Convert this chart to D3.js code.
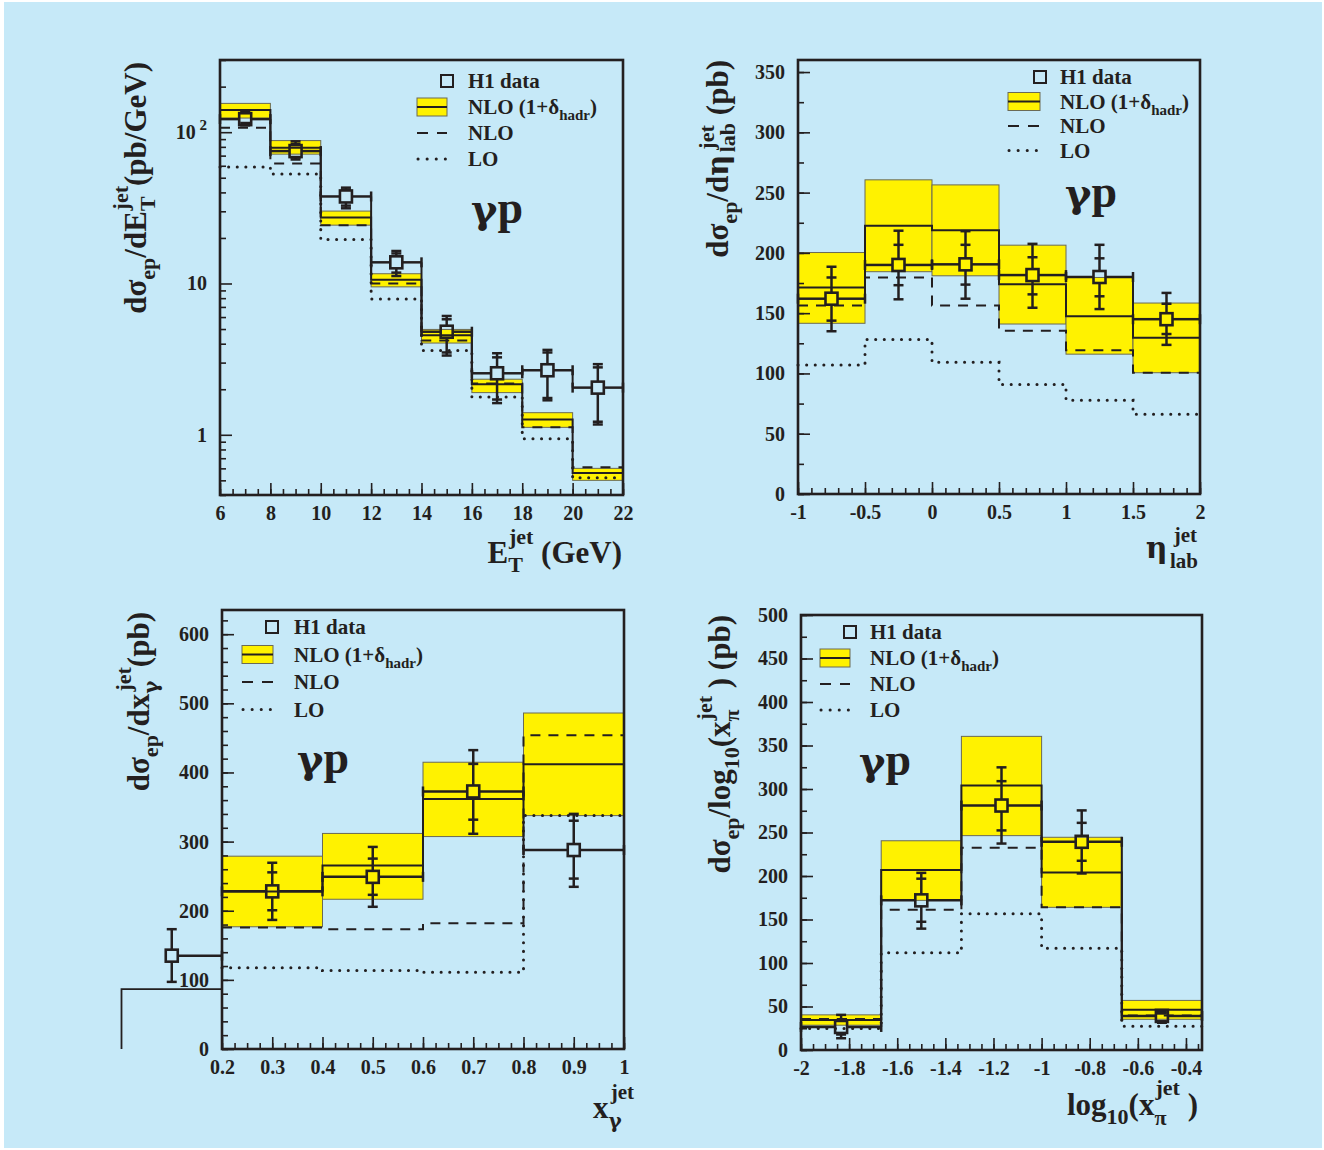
<!DOCTYPE html>
<html><head><meta charset="utf-8">
<script src="https://cdn.jsdelivr.net/npm/d3@7"></script>
<style>
body{margin:0;background:#fff}
text{font-family:"Liberation Serif","Times New Roman",serif;font-weight:bold;fill:#231f20}
</style></head>
<body><svg id="c" width="1324" height="1150"></svg>
<script>
// ---------- Panel 1: dσ/dE_T ----------
const etBins = [6,8,10,12,14,16,18,20,22];
const etData = [122,75,37.6,13.8,4.8,2.55,2.67,2.05];
const etStatHi = [134,83.5,41.7,15.8,5.8,3.25,3.5,2.79];
const etStatLo = [115,68,32.7,11.8,3.5,1.71,1.75,1.22];
const etTotHi = [138,87,43,16.4,6.1,3.46,3.64,2.93];
const etTotLo = [111,66,31.4,11.2,3.34,1.62,1.69,1.17];
const etBandHi = [155,88,30.1,11.6,4.97,2.33,1.40,0.60];
const etBandLo = [124,71.6,24.3,9.5,4.04,1.90,1.12,0.50];
const etBandMid = [140,79,27.3,10.6,4.55,2.16,1.26,0.56];
const etNLO = [107,62,24.3,10,4.2,2.18,1.12,0.61];
const etLO = [58.9,53,19.5,7.9,3.6,1.78,0.94,0.52];
const etXTicks = [6,8,10,12,14,16,18,20,22];
const etYTicks = [1,10,100];

// ---------- Panel 2: dσ/dη ----------
const etaBins = [-1,-0.5,0,0.5,1,1.5,2];
const etaData = [162,190,190.5,181.6,180,145];
const etaStatHi = [179.6,206.7,206.7,196.4,195.5,157.8];
const etaStatLo = [143.8,173.2,173.7,165.6,164,132.7];
const etaTotHi = [188.5,218.4,218,207.5,206.7,166.8];
const etaTotLo = [135,161.5,162,154.5,153.4,123.7];
const etaBandHi = [200.3,260.6,256.4,206.4,179.6,158.4];
const etaBandLo = [141.6,184.4,181,141,116,100.6];
const etaBandMid = [171.2,222.6,218.7,174,147.5,129.6];
const etaNLO = [156.4,179.6,156.4,135.5,119.3,100.6];
const etaLO = [107,128.2,109.2,90.8,77.7,66.2];
const etaXTicks = [-1,-0.5,0,0.5,1,1.5,2];
const etaYTicks = [0,50,100,150,200,250,300,350];

// ---------- Panel 3: dσ/dx_γ ----------
const xgBins = [0.2,0.4,0.6,0.8,1.0];
const xgData = [228,249,372.5,287.8];
const xgStatHi = [255.5,275.4,412.4,330.2];
const xgStatLo = [200.7,223,331.7,246.5];
const xgTotHi = [269.4,292.3,432.3,340.1];
const xgTotLo = [186.7,205.7,311.3,234.6];
const xgBandHi = [278.9,311.8,414.8,486];
const xgBandLo = [176.8,216.6,307.3,337.6];
const xgBandMid = [228,265.4,361.6,411.9];
const xgNLO = [175.8,173.3,181.8,453.7];
const xgLO = [117.5,113.5,111,337.6];
const xgOutPoint = [0.1,135,97.1,173.3];   // x, value, low, high (drawn outside the frame)
const xgOutStep = [0,0.2,86.7];            // stray step: from x, to x, value
const xgXTicks = [0.2,0.3,0.4,0.5,0.6,0.7,0.8,0.9,1];
const xgYTicks = [0,100,200,300,400,500,600];

// ---------- Panel 4: dσ/dlog10(x_π) ----------
const xpBins = [-2,-5/3,-4/3,-1,-2/3,-1/3];
const xpData = [26.5,172,281,239.3,39.2];
const xpStatHi = [34.5,196.9,309,261.1,42];
const xpStatLo = [17.8,147.4,252.4,217.5,33];
const xpTotHi = [40.4,203.6,324.9,275.4,44];
const xpTotLo = [13.5,139.5,237.3,202.9,31.3];
const xpBandHi = [40.4,240.5,360.5,244.5,57];
const xpBandLo = [28.5,172,246.4,164,35.3];
const xpBandMid = [34.5,206.8,303.9,204,46.4];
const xpNLO = [35.7,161.3,232.6,164,39.6];
const xpLO = [24.6,111.7,156.5,116.9,27.3];
const xpXTicks = [-2,-1.8,-1.6,-1.4,-1.2,-1,-0.8,-0.6,-0.4];
const xpYTicks = [0,50,100,150,200,250,300,350,400,450,500];

const legendLabels = ["H1 data","NLO (1+δ","NLO","LO"];

// =====================================================
const INK = "#231f20", YEL = "#fff200", BG = "#c6e9f8";
const GR = "DejaVu Serif";
const svg = d3.select("#c");
svg.append("rect").attr("x",4).attr("y",2).attr("width",1318).attr("height",1146).attr("fill",BG);

function range(a,b,s){const r=[];for(let v=a;v<=b+1e-9;v+=s)r.push(+v.toFixed(4));return r;}

function rich(t, parts){
  let cur=0;
  parts.forEach(p=>{
    const [txt, off, size, dx, fam] = p;
    const ts = t.append("tspan").text(txt).attr("font-size",size);
    if (off-cur!==0) ts.attr("dy", off-cur);
    if (dx) ts.attr("dx", dx);
    if (fam) ts.style("font-family", fam);
    cur = off;
  });
}

function stepPts(bins, vals){
  const pts=[];
  vals.forEach((v,i)=>{pts.push([bins[i],v]);pts.push([bins[i+1],v]);});
  return pts;
}

function drawPanel(c){
  const g = svg.append("g");
  const x = d3.scaleLinear().domain(c.xDom).range([c.L,c.R]);
  const y = (c.log? d3.scaleLog(): d3.scaleLinear()).domain(c.yDom).range([c.B,c.T]);
  const line = d3.line().x(d=>x(d[0])).y(d=>y(d[1]));
  const n = c.data.length;
  for(let i=0;i<n;i++){
    g.append("rect").attr("x",x(c.bins[i])).attr("width",x(c.bins[i+1])-x(c.bins[i]))
     .attr("y",y(c.bandHi[i])).attr("height",y(c.bandLo[i])-y(c.bandHi[i]))
     .attr("fill",YEL).attr("stroke","#6b6a55").attr("stroke-width",1);
  }
  g.append("path").attr("d",line(stepPts(c.bins,c.bandMid))).attr("fill","none").attr("stroke",INK).attr("stroke-width",2);
  g.append("path").attr("d",line(stepPts(c.bins,c.nlo))).attr("fill","none").attr("stroke",INK).attr("stroke-width",2).attr("stroke-dasharray","10,8");
  g.append("path").attr("d",line(stepPts(c.bins,c.lo))).attr("fill","none").attr("stroke",INK).attr("stroke-width",3).attr("stroke-dasharray","0.1,8.5").attr("stroke-linecap","round");
  for(let i=0;i<n-1;i++){
    g.append("line").attr("x1",x(c.bins[i+1])).attr("x2",x(c.bins[i+1]))
     .attr("y1",y(c.data[i])).attr("y2",y(c.data[i+1])).attr("stroke",INK).attr("stroke-width",2);
  }
  const h=6, cw=5;
  function point(cx, cy, lo, hi, xl, xr, sLo, sHi){
    const s = (x1,y1,x2,y2)=>g.append("line").attr("x1",x1).attr("y1",y1).attr("x2",x2).attr("y2",y2).attr("stroke",INK).attr("stroke-width",2.5);
    if (y(hi)<cy-h) s(cx,y(hi),cx,cy-h);
    if (y(lo)>cy+h) s(cx,cy+h,cx,y(lo));
    s(cx-cw,y(hi),cx+cw,y(hi)); s(cx-cw,y(lo),cx+cw,y(lo));
    if (sLo!==undefined){ s(cx-cw,y(sHi),cx+cw,y(sHi)); s(cx-cw,y(sLo),cx+cw,y(sLo)); }
    if (xl!==null){ s(xl,cy,cx-h,cy); s(xl,cy-cw,xl,cy+cw); }
    if (xr!==null){ s(cx+h,cy,xr,cy); s(xr,cy-cw,xr,cy+cw); }
    g.append("rect").attr("x",cx-h).attr("y",cy-h).attr("width",2*h).attr("height",2*h)
     .attr("fill","none").attr("stroke",INK).attr("stroke-width",2.6);
  }
  for(let i=0;i<n;i++){
    const cx = x((c.bins[i]+c.bins[i+1])/2), cy=y(c.data[i]);
    point(cx,cy,c.totLo[i],c.totHi[i],x(c.bins[i]),x(c.bins[i+1]),c.statLo[i],c.statHi[i]);
  }
  if (c.extra) c.extra(g,x,y,point,line);
  g.append("rect").attr("x",c.L).attr("y",c.T).attr("width",c.R-c.L).attr("height",c.B-c.T)
   .attr("fill","none").attr("stroke",INK).attr("stroke-width",2.6);
  const fmt = c.xFmt || (d=>String(+(+d).toFixed(2)));
  const ax = g.append("g").attr("transform",`translate(0,${c.B})`)
    .call(d3.axisBottom(x).tickValues(c.xTicks).tickSize(-12).tickPadding(11).tickFormat(fmt));
  const axm = g.append("g").attr("transform",`translate(0,${c.B})`)
    .call(d3.axisBottom(x).tickValues(c.xMinor).tickSize(-6).tickFormat(""));
  const ay = g.append("g").attr("transform",`translate(${c.L},0)`)
    .call(d3.axisLeft(y).tickValues(c.yTicks).tickSize(-12).tickPadding(13).tickFormat(c.yFmt||(d=>String(d))));
  const aym = g.append("g").attr("transform",`translate(${c.L},0)`)
    .call(d3.axisLeft(y).tickValues(c.yMinor).tickSize(-6).tickFormat(""));
  [ax,axm,ay,aym].forEach(a=>{
    a.select(".domain").remove();
    a.selectAll("line").attr("stroke",INK).attr("stroke-width",1.6);
    a.selectAll("text").attr("font-size",20).attr("fill",INK);
  });
  if (c.yPost) c.yPost(ay);
  const lg = g.append("g");
  const L=c.leg, sp=c.legSp;
  lg.append("rect").attr("x",L.sq-h).attr("y",L.y-h).attr("width",2*h).attr("height",2*h).attr("fill","none").attr("stroke",INK).attr("stroke-width",2);
  lg.append("rect").attr("x",L.l).attr("y",L.y+sp-9).attr("width",L.r-L.l).attr("height",18).attr("fill",YEL).attr("stroke","#6b6a55").attr("stroke-width",1);
  lg.append("line").attr("x1",L.l).attr("x2",L.r).attr("y1",L.y+sp).attr("y2",L.y+sp).attr("stroke",INK).attr("stroke-width",2);
  lg.append("line").attr("x1",L.l).attr("x2",L.r).attr("y1",L.y+2*sp).attr("y2",L.y+2*sp).attr("stroke",INK).attr("stroke-width",2).attr("stroke-dasharray","11,9");
  lg.append("line").attr("x1",L.l+1).attr("x2",L.r).attr("y1",L.y+3*sp).attr("y2",L.y+3*sp).attr("stroke",INK).attr("stroke-width",3).attr("stroke-dasharray","0.1,9").attr("stroke-linecap","round");
  lg.append("text").attr("x",L.t).attr("y",L.y+7).attr("font-size",21).text(legendLabels[0]);
  const t2 = lg.append("text").attr("x",L.t).attr("y",L.y+sp+7);
  rich(t2,[[legendLabels[1],0,21],["hadr",6,15],[")",0,21]]);
  lg.append("text").attr("x",L.t).attr("y",L.y+2*sp+7).attr("font-size",21).text(legendLabels[2]);
  lg.append("text").attr("x",L.t).attr("y",L.y+3*sp+7).attr("font-size",21).text(legendLabels[3]);
  const gpT = g.append("text").attr("x",c.gp[0]).attr("y",c.gp[1]);
  rich(gpT,[["γ",0,40,0,GR],["p",0,46]]);
  const yt = g.append("text").attr("transform",`translate(${c.ytPos[0]},${c.ytPos[1]}) rotate(-90)`).attr("text-anchor","end");
  rich(yt,c.yTitle);
  const xt = g.append("text").attr("x",c.xtPos[0]).attr("y",c.xtPos[1]).attr("text-anchor","end");
  rich(xt,c.xTitle);
}

const logMinor = [0.4,0.5,0.6,0.7,0.8,0.9,2,3,4,5,6,7,8,9,20,30,40,50,60,70,80,90,200,300];

drawPanel({L:220,R:623,T:60,B:495,xDom:[6,22],yDom:[0.4,300],log:true,
  bins:etBins,data:etData,statHi:etStatHi,statLo:etStatLo,totHi:etTotHi,totLo:etTotLo,
  bandHi:etBandHi,bandLo:etBandLo,bandMid:etBandMid,nlo:etNLO,lo:etLO,
  xTicks:etXTicks,xMinor:range(6,22,0.5),yTicks:etYTicks,yMinor:logMinor,
  yFmt:d=>d===100?"":String(d),
  yPost:ay=>{ay.selectAll(".tick").filter(d=>d===100).select("text").call(t=>{t.text("");rich(t,[["10",0,20],[" 2",-9,15]]);});},
  leg:{sq:447,l:417,r:447,t:468,y:81},legSp:26,gp:[471,223],
  ytPos:[146,62],yTitle:[["dσ",0,31],["ep",9,22],["/dE",0,31],["T",9,22],["jet",-18,22,-14],["(pb/GeV)",0,31]],
  xtPos:[622,563],xTitle:[["E",0,31],["T",9,22],["jet",-19,22,-14],[" (GeV)",0,31]]});

drawPanel({L:798,R:1200,T:60,B:494,xDom:[-1,2],yDom:[0,360],
  bins:etaBins,data:etaData,statHi:etaStatHi,statLo:etaStatLo,totHi:etaTotHi,totLo:etaTotLo,
  bandHi:etaBandHi,bandLo:etaBandLo,bandMid:etaBandMid,nlo:etaNLO,lo:etaLO,
  xTicks:etaXTicks,xMinor:range(-1,2,0.1),yTicks:etaYTicks,yMinor:range(0,350,25),
  leg:{sq:1040,l:1008,r:1040,t:1060,y:77},legSp:24.5,gp:[1065,207],
  ytPos:[728,60],yTitle:[["dσ",0,31],["ep",9,22],["/d",0,31],["η",0,29,0,GR],["jet",-14,22,5],["lab",7,22,-27],[" (pb)",0,31]],
  xtPos:[1198,558],xTitle:[["η",0,30,0,GR],["jet",-16,21,6],["lab",10,21,-27]]});

drawPanel({L:222,R:624,T:610,B:1049,xDom:[0.2,1],yDom:[0,635],
  bins:xgBins,data:xgData,statHi:xgStatHi,statLo:xgStatLo,totHi:xgTotHi,totLo:xgTotLo,
  bandHi:xgBandHi,bandLo:xgBandLo,bandMid:xgBandMid,nlo:xgNLO,lo:xgLO,
  xTicks:xgXTicks,xMinor:range(0.2,1,0.025),yTicks:xgYTicks,yMinor:range(0,620,20),
  extra:(g,x,y,point,line)=>{
    g.append("path").attr("d",line([[xgOutStep[0],0],[xgOutStep[0],xgOutStep[2]],[xgOutStep[1],xgOutStep[2]]]))
     .attr("fill","none").attr("stroke",INK).attr("stroke-width",1.8);
    point(x(xgOutPoint[0]),y(xgOutPoint[1]),xgOutPoint[2],xgOutPoint[3],null,x(0.2));
  },
  leg:{sq:272,l:242,r:273,t:294,y:627},legSp:27.5,gp:[297,773],
  ytPos:[149,612],yTitle:[["dσ",0,31],["ep",9,22],["/dx",0,31],["γ",9,20,0,GR],["jet",-18,22,-11],["(pb)",0,31]],
  xtPos:[634,1118],xTitle:[["x",0,31],["γ",10,20,0,GR],["jet",-19,21,-11]]});

drawPanel({L:801,R:1202,T:615,B:1050,xDom:[-2,-1/3],yDom:[0,500],
  bins:xpBins,data:xpData,statHi:xpStatHi,statLo:xpStatLo,totHi:xpTotHi,totLo:xpTotLo,
  bandHi:xpBandHi,bandLo:xpBandLo,bandMid:xpBandMid,nlo:xpNLO,lo:xpLO,
  xTicks:xpXTicks,xMinor:range(-2,-0.35,0.05),yTicks:xpYTicks,yMinor:range(0,500,25),
  leg:{sq:850,l:820,r:850,t:870,y:632},legSp:26,gp:[859,775],
  ytPos:[730,615],yTitle:[["dσ",0,31],["ep",9,22],["/log",0,31],["10",9,22],["(x",0,31],["π",9,22],["jet",-18,22,-11],[" ) (pb)",0,31]],
  xtPos:[1198,1115],xTitle:[["log",0,31],["10",9,22],["(x",0,31],["π",10,22],["jet",-20,22,-11],[" )",0,31]]});
</script></body></html>
